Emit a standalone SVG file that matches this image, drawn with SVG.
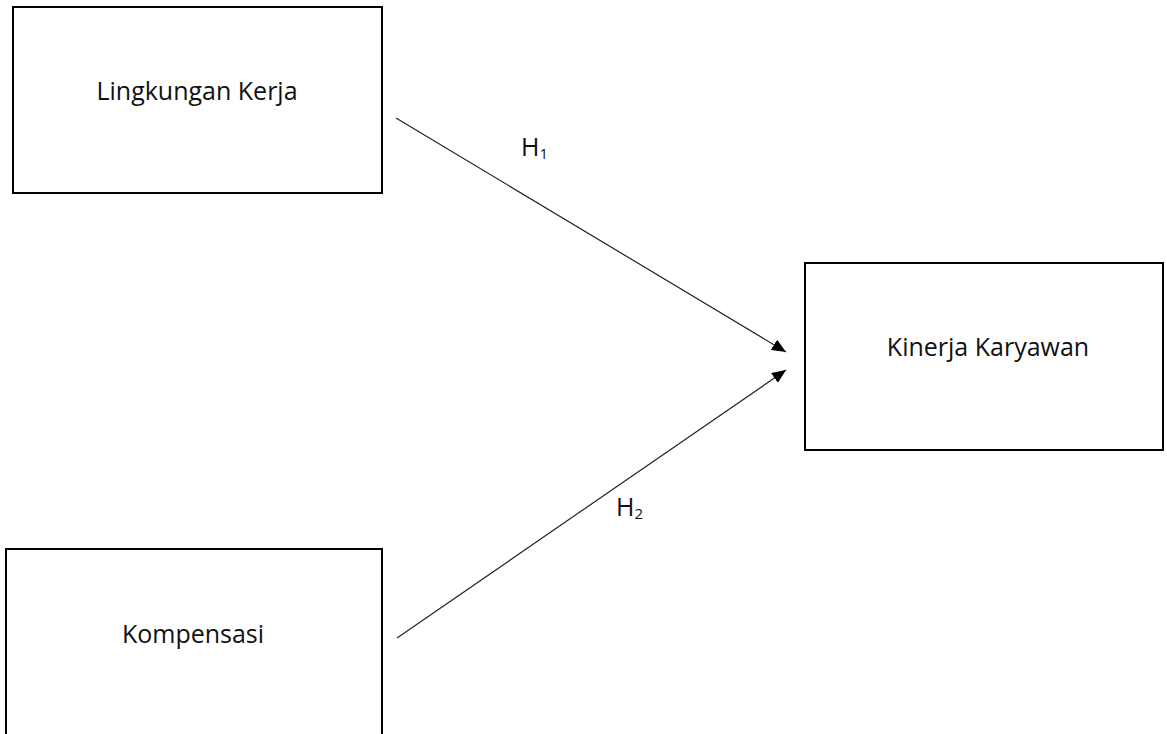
<svg xmlns="http://www.w3.org/2000/svg" width="1167" height="734" viewBox="0 0 1167 734">
<style>
.box{fill:#fff;stroke:#000;stroke-width:2}
.lbl{font-family:"Open Sans","Noto Sans","Liberation Sans",sans-serif;font-size:25px;fill:#111}
.edge{stroke:#222;stroke-width:1.2;fill:none}
.sub{font-size:15px}
</style>
<defs>
<marker id="arrh" viewBox="0 0 14 12" refX="14" refY="6" markerWidth="14" markerHeight="12" orient="auto" markerUnits="userSpaceOnUse">
<path d="M0,0 L14,6 L0,12 z" fill="#000"/>
</marker>
</defs>
<rect width="1167" height="734" fill="#fff"/>
<g id="connectors">
<line class="edge" x1="396" y1="118" x2="786" y2="352" marker-end="url(#arrh)"/>
<line class="edge" x1="397" y1="638" x2="786" y2="370" marker-end="url(#arrh)"/>
</g>
<g id="lingkungan">
<rect class="box" x="13" y="7" width="369" height="186"/>
<text class="lbl" x="197" y="100" text-anchor="middle">Lingkungan Kerja</text>
</g>
<g id="kompensasi">
<rect class="box" x="6" y="549" width="376" height="200"/>
<text class="lbl" x="193" y="643" text-anchor="middle">Kompensasi</text>
</g>
<g id="kinerja">
<rect class="box" x="805" y="263" width="358" height="187"/>
<text class="lbl" x="988" y="356" text-anchor="middle">Kinerja Karyawan</text>
</g>
<g id="labels">
<text class="lbl" x="521" y="156">H<tspan class="sub" dy="3">1</tspan></text>
<text class="lbl" x="616" y="516">H<tspan class="sub" dy="3">2</tspan></text>
</g>
</svg>
